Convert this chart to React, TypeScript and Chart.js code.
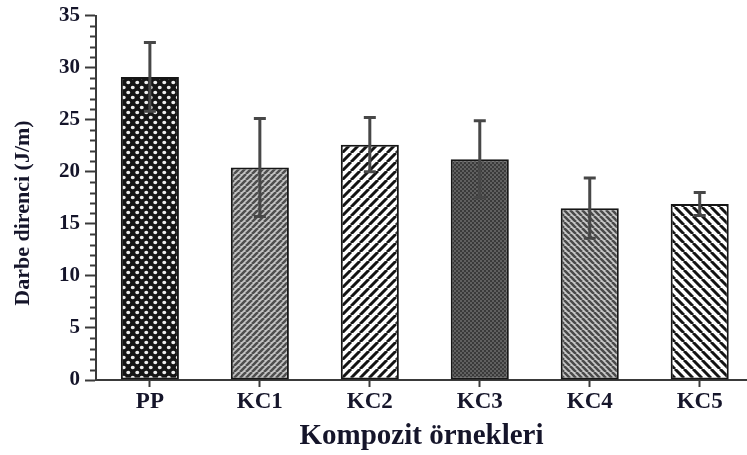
import React, { useEffect, useRef } from 'react';
import { Chart, registerables } from 'chart.js';

Chart.register(...registerables);

// Impact strength of the composite samples (mean ± standard deviation)
const categories = ['PP', 'KC1', 'KC2', 'KC3', 'KC4', 'KC5'];
const meanImpact = [29.1, 20.4, 22.6, 21.2, 16.5, 16.9];
const impactError = [3.3, 4.7, 2.6, 3.7, 2.9, 1.1];
const yTicks = [0, 5, 10, 15, 20, 25, 30, 35];
const yTitle = 'Darbe direnci (J/m)';
const xTitle = 'Kompozit örnekleri';

const FONT_FAMILY = "'Liberation Serif', 'Times New Roman', serif";
const TEXT_COLOR = '#15152a';
const AXIS_COLOR = '#3a3a3a';

type Ctx = CanvasRenderingContext2D;

function tile(w: number, h: number, draw: (g: Ctx) => void): HTMLCanvasElement {
  const c = document.createElement('canvas');
  c.width = w;
  c.height = h;
  draw(c.getContext('2d') as Ctx);
  return c;
}

// Diagonal hatch tile: '/' rises to the right, '\\' falls to the right
function hatch(ctx: Ctx, s: number, bg: string, fg: string, lw: number, dir: '/' | '\\') {
  const c = tile(s, s, (g) => {
    g.fillStyle = bg;
    g.fillRect(0, 0, s, s);
    g.strokeStyle = fg;
    g.lineWidth = lw;
    g.beginPath();
    for (let k = -1; k <= 1; k++) {
      if (dir === '/') {
        g.moveTo(k * s, s);
        g.lineTo(k * s + s, 0);
      } else {
        g.moveTo(k * s, 0);
        g.lineTo(k * s + s, s);
      }
    }
    g.stroke();
  });
  return ctx.createPattern(c, 'repeat') as CanvasPattern;
}

function dotLattice(ctx: Ctx) {
  const c = tile(9, 10, (g) => {
    g.fillStyle = '#151515';
    g.fillRect(0, 0, 9, 10);
    g.fillStyle = '#eeeeee';
    g.beginPath();
    g.ellipse(2.25, 2.5, 2.0, 1.8, 0, 0, Math.PI * 2);
    g.ellipse(6.75, 7.5, 2.0, 1.8, 0, 0, Math.PI * 2);
    g.fill();
  });
  return ctx.createPattern(c, 'repeat') as CanvasPattern;
}

function fineDots(ctx: Ctx) {
  const c = tile(4, 4, (g) => {
    g.fillStyle = '#3a3a3a';
    g.fillRect(0, 0, 4, 4);
    g.fillStyle = '#606060';
    g.fillRect(0, 0, 2, 2);
    g.fillRect(2, 2, 2, 2);
  });
  return ctx.createPattern(c, 'repeat') as CanvasPattern;
}

const errorBarPlugin = {
  id: 'errorBars',
  afterDatasetsDraw(chart: any) {
    const { ctx, scales } = chart;
    const xs = scales.x;
    const ys = scales.y;
    ctx.save();
    ctx.strokeStyle = '#474747';
    ctx.lineWidth = 3;
    meanImpact.forEach((m, i) => {
      const x = xs.getPixelForValue(i);
      const top = ys.getPixelForValue(m + impactError[i]);
      const bot = ys.getPixelForValue(m - impactError[i]);
      ctx.beginPath();
      ctx.moveTo(x, top);
      ctx.lineTo(x, bot);
      ctx.moveTo(x - 6, top);
      ctx.lineTo(x + 6, top);
      ctx.moveTo(x - 6, bot);
      ctx.lineTo(x + 6, bot);
      ctx.stroke();
    });
    ctx.restore();
  },
};

// Short unlabelled ticks every 1 J/m on the value axis, plus the axis title
const valueAxisDecor = {
  id: 'valueAxisDecor',
  afterDraw(chart: any) {
    const { ctx, scales, chartArea } = chart;
    const ys = scales.y;
    ctx.save();
    ctx.strokeStyle = AXIS_COLOR;
    ctx.lineWidth = 2;
    ctx.beginPath();
    for (let v = ys.min; v <= ys.max; v++) {
      if (v % 5 === 0) continue;
      const y = Math.round(ys.getPixelForValue(v)) + 0.5;
      ctx.moveTo(chartArea.left - 6, y);
      ctx.lineTo(chartArea.left, y);
    }
    ctx.stroke();

    ctx.translate(23, 213);
    ctx.rotate(-Math.PI / 2);
    ctx.font = `bold 22px ${FONT_FAMILY}`;
    ctx.fillStyle = TEXT_COLOR;
    ctx.textAlign = 'center';
    ctx.textBaseline = 'middle';
    ctx.fillText(yTitle, 0, 0);
    ctx.restore();
  },
};

export default function App() {
  const canvasRef = useRef<HTMLCanvasElement | null>(null);

  useEffect(() => {
    const canvas = canvasRef.current;
    if (!canvas) return;
    const ctx = canvas.getContext('2d') as Ctx;

    const fills = [
      dotLattice(ctx),
      hatch(ctx, 6, '#c4c4c4', '#4e4e4e', 2.6, '/'),
      hatch(ctx, 9, '#ffffff', '#141414', 3, '/'),
      fineDots(ctx),
      hatch(ctx, 6, '#c8c8c8', '#4a4a4a', 2.6, '\\'),
      hatch(ctx, 9, '#ffffff', '#141414', 3, '\\'),
    ];

    const chart = new Chart(ctx, {
      type: 'bar',
      data: {
        datasets: [
          {
            data: meanImpact.map((y, i) => ({ x: i, y })),
            backgroundColor: fills,
            borderColor: '#161616',
            borderWidth: 2,
            borderSkipped: false,
            categoryPercentage: 0.8,
            barPercentage: 0.66,
          },
        ],
      },
      options: {
        responsive: false,
        animation: false,
        layout: { padding: { top: 12, right: 0, left: 0, bottom: 0 } },
        plugins: { legend: { display: false }, tooltip: { enabled: false } },
        scales: {
          x: {
            type: 'linear',
            min: -0.49,
            max: 5.43,
            offset: false,
            afterBuildTicks: (s: any) => {
              s.ticks = categories.map((_, i) => ({ value: i }));
            },
            afterFit: (s: any) => {
              s.height = 75;
            },
            ticks: {
              callback: (_v: any, i: number) => categories[i],
              font: { family: FONT_FAMILY, size: 23, weight: 'bold' },
              color: TEXT_COLOR,
              padding: 1,
              autoSkip: false,
              maxRotation: 0,
            },
            grid: {
              offset: false,
              drawOnChartArea: false,
              tickLength: 7,
              tickWidth: 2,
              tickColor: AXIS_COLOR,
            },
            border: { color: AXIS_COLOR, width: 2 },
            title: {
              display: true,
              text: xTitle,
              font: { family: FONT_FAMILY, size: 29, weight: 'bold' },
              color: TEXT_COLOR,
              padding: { top: 0, bottom: 1 },
            },
          },
          y: {
            min: 0,
            max: 35,
            afterBuildTicks: (s: any) => {
              s.ticks = yTicks.map((v) => ({ value: v }));
            },
            afterFit: (s: any) => {
              s.width = 96;
            },
            ticks: {
              font: { family: FONT_FAMILY, size: 21, weight: 'bold', lineHeight: 1 },
              color: TEXT_COLOR,
              padding: 5,
            },
            grid: {
              drawOnChartArea: false,
              tickLength: 11,
              tickWidth: 2,
              tickColor: AXIS_COLOR,
            },
            border: { color: AXIS_COLOR, width: 2 },
          },
        },
      },
      plugins: [errorBarPlugin, valueAxisDecor],
    });

    return () => chart.destroy();
  }, []);

  return (
    <div style={{ position: 'absolute', left: 0, top: 0, width: 747, height: 455, background: '#fff' }}>
      <canvas ref={canvasRef} width={747} height={455} />
    </div>
  );
}
